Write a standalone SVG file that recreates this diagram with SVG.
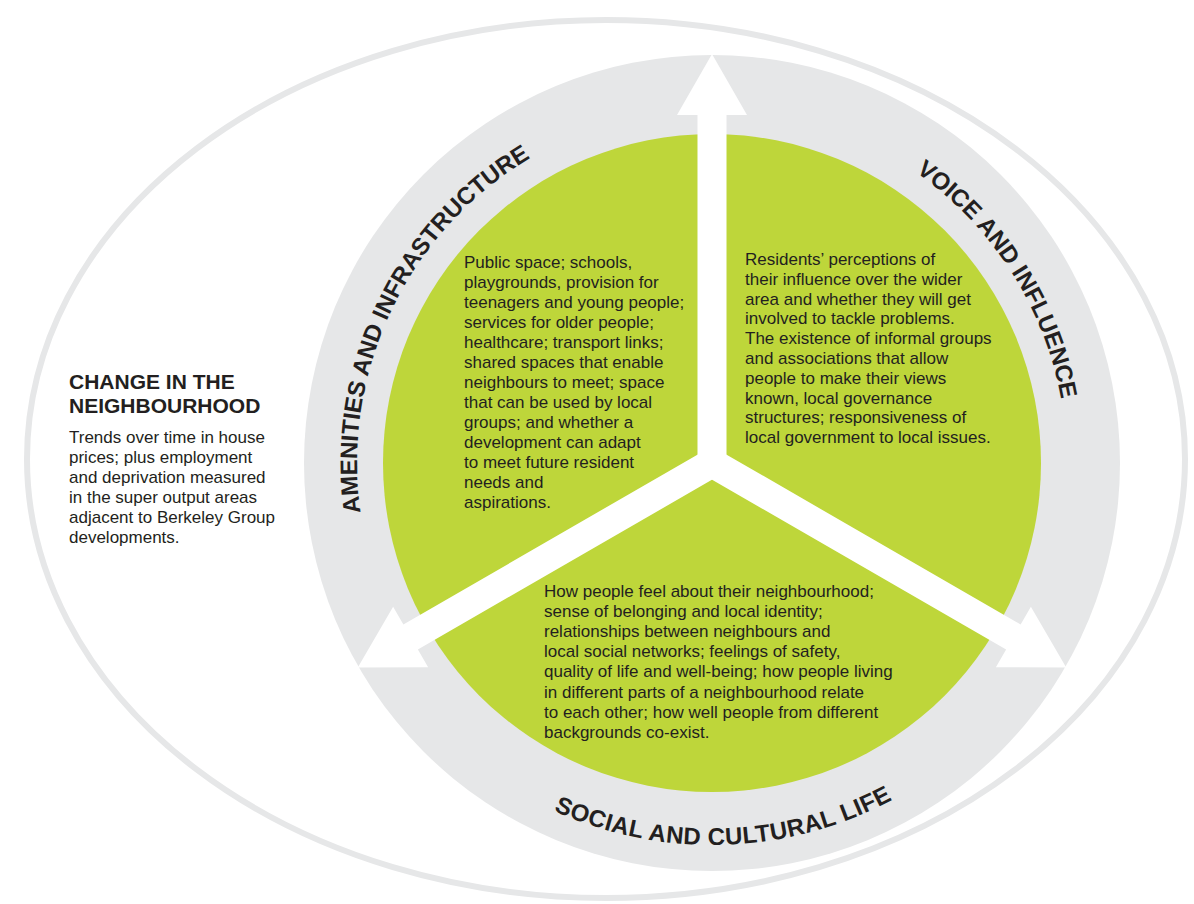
<svg xmlns="http://www.w3.org/2000/svg" width="1194" height="904" viewBox="0 0 1194 904">
<style>
.body{font-family:"Liberation Sans",Arial,sans-serif;font-size:17px;fill:#231f20}
.head{font-family:"Liberation Sans",Arial,sans-serif;font-size:21px;font-weight:bold;fill:#231f20}
.ring{font-family:"Liberation Sans",Arial,sans-serif;font-size:24px;font-weight:bold;fill:#231f20}
.arrow{fill:#ffffff}
</style>
<defs>
<path id="arcAmen" d="M 360.5 512.4 A 355 355 0 0 1 650.4 113.4"/>
<path id="arcVoice" d="M 915.6 172.2 A 355 355 0 0 1 1067 463"/>
<path id="arcSocial" d="M 553.6 810.6 A 382 382 0 0 0 1004.6 708.6"/>
<polygon id="arr" points="-14.5,0 -14.5,-348 -35,-348 0,-409 35,-348 14.5,-348 14.5,0"/>
</defs>
<rect width="1194" height="904" fill="#ffffff"/>
<g id="outer-ellipse">
<ellipse cx="606" cy="459" rx="579" ry="439" fill="#ffffff" stroke="#e6e7e8" stroke-width="6"/>
</g>
<g id="ring">
<circle cx="712" cy="463" r="408" fill="#e6e7e8"/>
</g>
<g id="core">
<circle cx="712" cy="463" r="329" fill="#bed63a"/>
</g>
<g id="connectors">
<use href="#arr" class="arrow" transform="translate(712,463)"/>
<use href="#arr" class="arrow" transform="translate(712,463) rotate(-120)"/>
<use href="#arr" class="arrow" transform="translate(712,463) rotate(120)"/>
</g>
<g id="amenities">
<text class="ring"><textPath href="#arcAmen">AMENITIES AND INFRASTRUCTURE</textPath></text>
<text class="body" x="464" y="268">Public space; schools,</text>
<text class="body" x="464" y="288">playgrounds, provision for</text>
<text class="body" x="464" y="308">teenagers and young people;</text>
<text class="body" x="464" y="328">services for older people;</text>
<text class="body" x="464" y="348">healthcare; transport links;</text>
<text class="body" x="464" y="368">shared spaces that enable</text>
<text class="body" x="464" y="388">neighbours to meet; space</text>
<text class="body" x="464" y="408">that can be used by local</text>
<text class="body" x="464" y="428">groups; and whether a</text>
<text class="body" x="464" y="448">development can adapt</text>
<text class="body" x="464" y="468">to meet future resident</text>
<text class="body" x="464" y="488">needs and</text>
<text class="body" x="464" y="508">aspirations.</text>
</g>
<g id="voice">
<text class="ring"><textPath href="#arcVoice">VOICE AND INFLUENCE</textPath></text>
<text class="body" x="745" y="265">Residents’ perceptions of</text>
<text class="body" x="745" y="285">their influence over the wider</text>
<text class="body" x="745" y="305">area and whether they will get</text>
<text class="body" x="745" y="324">involved to tackle problems.</text>
<text class="body" x="745" y="344">The existence of informal groups</text>
<text class="body" x="745" y="364">and associations that allow</text>
<text class="body" x="745" y="384">people to make their views</text>
<text class="body" x="745" y="404">known, local governance</text>
<text class="body" x="745" y="423">structures; responsiveness of</text>
<text class="body" x="745" y="443">local government to local issues.</text>
</g>
<g id="social">
<text class="ring" letter-spacing="0.4"><textPath href="#arcSocial">SOCIAL AND CULTURAL LIFE</textPath></text>
<text class="body" x="544" y="597">How people feel about their neighbourhood;</text>
<text class="body" x="544" y="617">sense of belonging and local identity;</text>
<text class="body" x="544" y="637">relationships between neighbours and</text>
<text class="body" x="544" y="657">local social networks; feelings of safety,</text>
<text class="body" x="544" y="677">quality of life and well-being; how people living</text>
<text class="body" x="544" y="698">in different parts of a neighbourhood relate</text>
<text class="body" x="544" y="718">to each other; how well people from different</text>
<text class="body" x="544" y="738">backgrounds co-exist.</text>
</g>
<g id="change">
<text class="head" x="69" y="389">CHANGE IN THE</text>
<text class="head" x="69" y="413">NEIGHBOURHOOD</text>
<text class="body" x="69" y="443">Trends over time in house</text>
<text class="body" x="69" y="463">prices; plus employment</text>
<text class="body" x="69" y="483">and deprivation measured</text>
<text class="body" x="69" y="503">in the super output areas</text>
<text class="body" x="69" y="523">adjacent to Berkeley Group</text>
<text class="body" x="69" y="543">developments.</text>
</g>
</svg>
